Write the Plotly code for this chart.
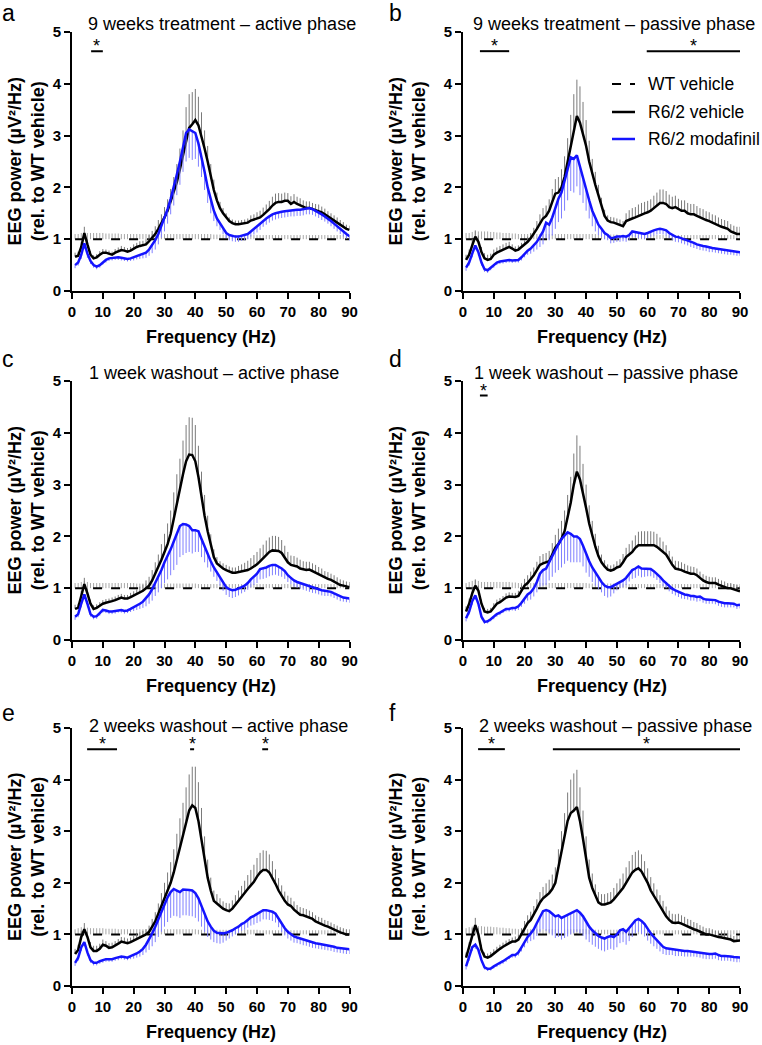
import plotly.graph_objects as go

FREQ = list(range(1, 91))
PANEL_LETTERS = ["a", "b", "c", "d", "e", "f"]
PANEL_TITLES = [
    "9 weeks treatment \u2013 active phase",
    "9 weeks treatment \u2013 passive phase",
    "1 week washout \u2013 active phase",
    "1 week washout \u2013 passive phase",
    "2 weeks washout \u2013 active phase",
    "2 weeks washout \u2013 passive phase",
]
SERIES_NAMES = ["WT vehicle", "R6/2 vehicle", "R6/2 modafinil"]
X_TICKS = [0, 10, 20, 30, 40, 50, 60, 70, 80, 90]
Y_TICKS = [0, 1, 2, 3, 4, 5]

# WT vehicle is the reference (normalised to 1)
WT_MEAN = [1.0] * 90

# ---------------- panel a ----------------
A_VEH = [0.66,0.68,0.85,1.12,0.9,0.7,0.63,0.65,0.7,0.74,
         0.74,0.72,0.7,0.74,0.77,0.79,0.78,0.76,0.78,0.82,
         0.85,0.87,0.88,0.9,0.96,1.02,1.1,1.2,1.3,1.42,
         1.55,1.72,1.9,2.1,2.35,2.6,2.9,3.15,3.22,3.3,
         3.2,3.0,2.75,2.5,2.2,1.95,1.75,1.6,1.5,1.42,
         1.35,1.31,1.29,1.29,1.3,1.3,1.32,1.36,1.38,1.4,
         1.42,1.47,1.52,1.58,1.65,1.7,1.72,1.72,1.74,1.74,
         1.68,1.72,1.68,1.65,1.62,1.6,1.6,1.58,1.56,1.55,
         1.52,1.48,1.44,1.4,1.36,1.32,1.28,1.24,1.2,1.18]
A_VEH_SEM = [0.08,0.08,0.1,0.12,0.1,0.07,0.06,0.06,0.07,0.07,
             0.06,0.06,0.06,0.07,0.07,0.08,0.07,0.07,0.07,0.08,
             0.08,0.09,0.09,0.1,0.12,0.14,0.15,0.17,0.18,0.2,
             0.22,0.25,0.3,0.35,0.4,0.5,0.65,0.65,0.62,0.6,
             0.55,0.45,0.35,0.3,0.25,0.2,0.15,0.12,0.1,0.08,
             0.07,0.07,0.07,0.07,0.07,0.08,0.08,0.1,0.1,0.12,
             0.13,0.14,0.15,0.16,0.17,0.18,0.17,0.16,0.16,0.15,
             0.15,0.15,0.14,0.14,0.13,0.13,0.13,0.12,0.12,0.12,
             0.11,0.11,0.1,0.1,0.1,0.1,0.09,0.09,0.08,0.08]
A_MOD = [0.5,0.55,0.7,0.92,0.72,0.58,0.5,0.47,0.5,0.56,
         0.6,0.63,0.64,0.65,0.65,0.64,0.63,0.62,0.63,0.65,
         0.67,0.69,0.71,0.74,0.8,0.88,0.98,1.1,1.25,1.4,
         1.58,1.78,2.0,2.25,2.5,2.8,3.05,3.12,3.08,3.05,
         2.85,2.6,2.3,2.0,1.75,1.55,1.4,1.3,1.2,1.12,
         1.08,1.06,1.05,1.05,1.07,1.08,1.1,1.15,1.2,1.25,
         1.3,1.36,1.4,1.44,1.48,1.5,1.52,1.53,1.54,1.55,
         1.56,1.56,1.57,1.57,1.58,1.6,1.6,1.58,1.55,1.52,
         1.48,1.44,1.4,1.35,1.3,1.25,1.2,1.14,1.1,1.06]
A_MOD_SEM = [0.06,0.06,0.08,0.1,0.08,0.06,0.05,0.05,0.05,0.05,
             0.05,0.05,0.05,0.05,0.05,0.05,0.05,0.05,0.05,0.06,
             0.06,0.07,0.08,0.1,0.12,0.15,0.18,0.2,0.22,0.25,
             0.28,0.3,0.35,0.4,0.45,0.5,0.55,0.55,0.55,0.5,
             0.45,0.4,0.35,0.3,0.25,0.2,0.15,0.12,0.1,0.1,
             0.1,0.1,0.1,0.1,0.1,0.1,0.1,0.1,0.11,0.12,
             0.12,0.12,0.12,0.12,0.12,0.12,0.12,0.12,0.12,0.12,
             0.12,0.12,0.12,0.12,0.12,0.12,0.12,0.11,0.11,0.11,
             0.11,0.1,0.1,0.1,0.1,0.1,0.1,0.09,0.09,0.09]
A_WT_SEM = [0.1,0.1,0.12,0.12,0.12,0.12,0.12,0.12,0.12,0.12,
            0.11,0.11,0.11,0.11,0.11,0.1,0.1,0.1,0.1,0.1,
            0.1,0.1,0.1,0.1,0.1,0.1,0.1,0.1,0.1,0.1,
            0.1,0.1,0.1,0.1,0.1,0.1,0.1,0.1,0.1,0.1,
            0.1,0.1,0.1,0.1,0.1,0.09,0.09,0.09,0.09,0.09,
            0.08,0.08,0.08,0.08,0.08,0.08,0.08,0.08,0.08,0.08,
            0.08,0.08,0.08,0.08,0.08,0.08,0.08,0.08,0.08,0.08,
            0.08,0.08,0.08,0.08,0.08,0.08,0.08,0.08,0.08,0.08,
            0.08,0.08,0.08,0.08,0.08,0.08,0.08,0.08,0.08,0.08]

# ---------------- panel b ----------------
B_VEH = [0.6,0.7,0.88,1.05,0.95,0.75,0.63,0.6,0.62,0.7,
         0.74,0.77,0.8,0.83,0.85,0.82,0.78,0.8,0.85,0.9,
         0.95,1.02,1.1,1.2,1.3,1.4,1.45,1.55,1.72,1.88,
         1.9,2.0,2.2,2.5,2.85,3.15,3.38,3.25,3.05,2.8,
         2.5,2.25,2.05,1.85,1.65,1.45,1.36,1.33,1.32,1.3,
         1.28,1.25,1.35,1.38,1.4,1.42,1.45,1.48,1.5,1.52,
         1.55,1.6,1.65,1.7,1.7,1.68,1.62,1.6,1.62,1.58,
         1.55,1.55,1.5,1.48,1.48,1.45,1.42,1.4,1.37,1.35,
         1.32,1.3,1.27,1.24,1.22,1.2,1.15,1.12,1.1,1.1]
B_VEH_SEM = [0.1,0.1,0.12,0.12,0.12,0.1,0.1,0.1,0.1,0.1,
             0.1,0.1,0.1,0.1,0.1,0.08,0.08,0.08,0.08,0.08,
             0.1,0.1,0.12,0.15,0.18,0.2,0.2,0.22,0.25,0.28,
             0.3,0.35,0.4,0.45,0.55,0.65,0.7,0.7,0.6,0.5,
             0.4,0.3,0.25,0.2,0.15,0.12,0.1,0.1,0.1,0.1,
             0.1,0.1,0.15,0.18,0.2,0.2,0.22,0.22,0.22,0.22,
             0.22,0.24,0.25,0.26,0.26,0.25,0.24,0.22,0.22,0.2,
             0.2,0.2,0.2,0.2,0.2,0.19,0.18,0.18,0.17,0.17,
             0.16,0.16,0.15,0.15,0.15,0.15,0.14,0.14,0.14,0.14]
B_MOD = [0.45,0.55,0.72,0.88,0.75,0.55,0.42,0.4,0.45,0.5,
         0.55,0.57,0.58,0.59,0.6,0.59,0.6,0.6,0.65,0.72,
         0.78,0.82,0.88,0.95,1.05,1.15,1.32,1.28,1.42,1.6,
         1.78,1.9,2.1,2.35,2.58,2.55,2.62,2.4,2.15,1.95,
         1.75,1.55,1.4,1.28,1.2,1.12,1.08,1.02,1.03,1.05,
         1.05,1.06,1.05,1.08,1.15,1.14,1.12,1.12,1.1,1.12,
         1.15,1.17,1.19,1.2,1.19,1.17,1.12,1.08,1.05,1.04,
         1.02,1.0,0.98,0.95,0.93,0.9,0.88,0.87,0.86,0.84,
         0.83,0.82,0.81,0.8,0.79,0.78,0.77,0.76,0.75,0.75]
B_MOD_SEM = [0.06,0.06,0.07,0.08,0.07,0.06,0.05,0.05,0.05,0.05,
             0.05,0.05,0.05,0.05,0.05,0.05,0.05,0.05,0.06,0.07,
             0.08,0.1,0.12,0.15,0.2,0.25,0.3,0.3,0.35,0.4,
             0.45,0.5,0.55,0.6,0.65,0.65,0.6,0.55,0.45,0.4,
             0.35,0.3,0.25,0.2,0.15,0.12,0.1,0.1,0.1,0.1,
             0.1,0.1,0.1,0.1,0.1,0.1,0.1,0.1,0.1,0.1,
             0.1,0.1,0.1,0.1,0.1,0.1,0.1,0.1,0.1,0.1,
             0.1,0.1,0.1,0.1,0.1,0.09,0.09,0.09,0.09,0.09,
             0.08,0.08,0.08,0.08,0.08,0.08,0.07,0.07,0.07,0.07]
B_WT_SEM = [0.12,0.12,0.14,0.15,0.15,0.15,0.15,0.15,0.14,0.14,
            0.13,0.13,0.12,0.12,0.12,0.11,0.11,0.1,0.1,0.1,
            0.1,0.1,0.1,0.1,0.1,0.1,0.1,0.1,0.1,0.1,
            0.1,0.1,0.1,0.1,0.1,0.1,0.1,0.1,0.1,0.1,
            0.1,0.1,0.1,0.09,0.09,0.09,0.09,0.09,0.09,0.09,
            0.08,0.08,0.08,0.08,0.08,0.08,0.08,0.08,0.08,0.08,
            0.08,0.08,0.08,0.08,0.08,0.08,0.08,0.08,0.08,0.08,
            0.08,0.08,0.08,0.08,0.08,0.08,0.08,0.08,0.08,0.08,
            0.08,0.08,0.08,0.08,0.08,0.08,0.08,0.08,0.08,0.08]

# ---------------- panel c ----------------
C_VEH = [0.6,0.62,0.85,1.08,0.9,0.7,0.6,0.62,0.66,0.7,
         0.72,0.73,0.75,0.77,0.8,0.82,0.8,0.8,0.83,0.86,
         0.9,0.93,0.95,1.0,1.05,1.15,1.28,1.4,1.55,1.7,
         1.85,2.05,2.35,2.65,2.9,3.2,3.45,3.58,3.57,3.45,
         3.15,2.75,2.4,2.1,1.82,1.6,1.48,1.42,1.38,1.35,
         1.32,1.3,1.3,1.31,1.32,1.33,1.35,1.38,1.42,1.46,
         1.52,1.58,1.65,1.7,1.73,1.73,1.72,1.68,1.6,1.5,
         1.45,1.44,1.42,1.38,1.36,1.35,1.36,1.33,1.3,1.27,
         1.24,1.2,1.18,1.16,1.13,1.1,1.06,1.05,1.03,1.02]
C_VEH_SEM = [0.08,0.08,0.1,0.12,0.1,0.08,0.07,0.07,0.07,0.07,
             0.07,0.07,0.07,0.07,0.07,0.07,0.07,0.07,0.08,0.08,
             0.08,0.1,0.12,0.15,0.17,0.2,0.22,0.25,0.3,0.35,
             0.4,0.45,0.5,0.55,0.6,0.65,0.7,0.72,0.72,0.7,
             0.6,0.5,0.4,0.3,0.22,0.15,0.12,0.1,0.1,0.1,
             0.1,0.1,0.1,0.12,0.14,0.16,0.18,0.2,0.22,0.24,
             0.25,0.26,0.27,0.28,0.28,0.28,0.27,0.25,0.22,0.2,
             0.18,0.18,0.17,0.17,0.16,0.16,0.15,0.15,0.15,0.14,
             0.14,0.13,0.13,0.12,0.12,0.11,0.11,0.1,0.1,0.1]
C_MOD = [0.45,0.5,0.7,0.88,0.7,0.5,0.45,0.46,0.52,0.58,
         0.57,0.55,0.55,0.56,0.58,0.58,0.56,0.57,0.6,0.63,
         0.66,0.7,0.74,0.8,0.88,0.98,1.1,1.22,1.35,1.5,
         1.62,1.75,1.9,2.05,2.2,2.24,2.23,2.2,2.12,2.12,
         2.1,1.95,1.8,1.65,1.52,1.4,1.3,1.2,1.1,1.02,
         0.98,0.96,0.97,0.99,1.02,1.05,1.1,1.17,1.22,1.28,
         1.37,1.38,1.4,1.43,1.45,1.45,1.42,1.38,1.33,1.25,
         1.2,1.15,1.12,1.1,1.07,1.05,1.03,1.01,1.0,0.98,
         0.96,0.95,0.94,0.93,0.9,0.87,0.84,0.82,0.81,0.8]
C_MOD_SEM = [0.06,0.06,0.07,0.08,0.07,0.05,0.05,0.05,0.05,0.05,
             0.05,0.05,0.05,0.05,0.05,0.05,0.05,0.05,0.06,0.07,
             0.08,0.1,0.12,0.15,0.18,0.22,0.25,0.3,0.35,0.4,
             0.45,0.5,0.55,0.6,0.6,0.6,0.55,0.5,0.45,0.42,
             0.4,0.35,0.3,0.25,0.2,0.18,0.16,0.15,0.15,0.15,
             0.15,0.15,0.14,0.13,0.12,0.12,0.13,0.15,0.16,0.18,
             0.2,0.2,0.2,0.2,0.2,0.19,0.18,0.16,0.15,0.13,
             0.12,0.12,0.11,0.11,0.1,0.1,0.1,0.1,0.1,0.1,
             0.1,0.1,0.09,0.09,0.09,0.09,0.09,0.08,0.08,0.08]
C_WT_SEM = [0.1,0.1,0.12,0.14,0.12,0.1,0.1,0.1,0.1,0.1,
            0.1,0.1,0.1,0.1,0.1,0.1,0.1,0.1,0.1,0.1,
            0.09,0.09,0.09,0.09,0.09,0.09,0.09,0.09,0.09,0.09,
            0.09,0.09,0.09,0.09,0.09,0.09,0.09,0.09,0.09,0.09,
            0.08,0.08,0.08,0.08,0.08,0.08,0.08,0.08,0.08,0.08,
            0.08,0.08,0.08,0.08,0.08,0.08,0.08,0.08,0.08,0.08,
            0.08,0.08,0.08,0.08,0.08,0.08,0.08,0.08,0.08,0.08,
            0.08,0.08,0.08,0.08,0.08,0.08,0.08,0.08,0.08,0.08,
            0.08,0.08,0.08,0.08,0.08,0.08,0.08,0.08,0.08,0.08]

# ---------------- panel d ----------------
D_VEH = [0.55,0.7,0.9,1.05,0.95,0.7,0.55,0.53,0.55,0.63,
         0.7,0.73,0.77,0.82,0.84,0.83,0.83,0.85,0.95,1.05,
         1.1,1.17,1.25,1.35,1.45,1.48,1.5,1.52,1.65,1.78,
         1.85,1.95,2.1,2.35,2.65,3.0,3.25,3.1,2.85,2.55,
         2.25,2.0,1.8,1.62,1.5,1.42,1.36,1.34,1.36,1.4,
         1.42,1.5,1.6,1.65,1.7,1.78,1.83,1.83,1.83,1.83,
         1.83,1.83,1.8,1.75,1.7,1.65,1.55,1.45,1.38,1.37,
         1.35,1.32,1.3,1.28,1.28,1.25,1.2,1.15,1.12,1.1,
         1.1,1.1,1.07,1.05,1.03,1.0,1.0,0.98,0.96,0.94]
D_VEH_SEM = [0.1,0.1,0.12,0.12,0.1,0.08,0.07,0.07,0.07,0.08,
             0.08,0.08,0.08,0.08,0.08,0.08,0.08,0.1,0.12,0.13,
             0.15,0.15,0.15,0.16,0.17,0.18,0.18,0.2,0.22,0.25,
             0.3,0.35,0.4,0.45,0.5,0.6,0.7,0.65,0.55,0.45,
             0.35,0.3,0.25,0.2,0.15,0.12,0.1,0.1,0.1,0.12,
             0.14,0.16,0.18,0.2,0.22,0.24,0.26,0.27,0.27,0.27,
             0.27,0.26,0.25,0.23,0.2,0.18,0.17,0.16,0.15,0.15,
             0.15,0.15,0.14,0.14,0.13,0.13,0.12,0.12,0.12,0.12,
             0.11,0.11,0.11,0.1,0.1,0.1,0.1,0.1,0.1,0.1]
D_MOD = [0.42,0.55,0.75,0.86,0.7,0.45,0.35,0.36,0.4,0.45,
         0.5,0.53,0.57,0.6,0.6,0.62,0.62,0.65,0.72,0.8,
         0.88,0.92,1.0,1.12,1.28,1.35,1.38,1.5,1.62,1.75,
         1.85,1.95,2.02,2.08,2.05,2.0,2.0,1.95,1.82,1.65,
         1.52,1.4,1.3,1.2,1.12,1.05,1.02,1.02,1.05,1.08,
         1.12,1.15,1.2,1.28,1.35,1.38,1.42,1.38,1.38,1.38,
         1.37,1.33,1.28,1.22,1.15,1.1,1.04,0.99,0.96,0.93,
         0.9,0.88,0.87,0.85,0.85,0.83,0.84,0.8,0.78,0.78,
         0.78,0.77,0.74,0.72,0.71,0.71,0.71,0.7,0.67,0.68]
D_MOD_SEM = [0.06,0.06,0.07,0.08,0.06,0.05,0.04,0.04,0.04,0.05,
             0.05,0.05,0.05,0.05,0.05,0.05,0.06,0.07,0.08,0.1,
             0.12,0.14,0.16,0.2,0.25,0.3,0.32,0.35,0.4,0.45,
             0.5,0.55,0.55,0.55,0.55,0.5,0.5,0.45,0.4,0.35,
             0.3,0.28,0.25,0.22,0.2,0.2,0.2,0.18,0.15,0.12,
             0.12,0.13,0.14,0.15,0.17,0.18,0.18,0.17,0.16,0.15,
             0.14,0.13,0.12,0.12,0.11,0.1,0.1,0.1,0.1,0.1,
             0.1,0.09,0.09,0.09,0.09,0.09,0.09,0.08,0.08,0.08,
             0.08,0.08,0.08,0.08,0.08,0.08,0.08,0.07,0.07,0.07]
D_WT_SEM = [0.1,0.12,0.14,0.15,0.14,0.12,0.12,0.12,0.12,0.12,
            0.12,0.12,0.12,0.12,0.12,0.11,0.11,0.1,0.1,0.1,
            0.1,0.1,0.1,0.1,0.1,0.1,0.1,0.1,0.1,0.1,
            0.1,0.1,0.1,0.1,0.1,0.1,0.1,0.1,0.1,0.1,
            0.09,0.09,0.09,0.09,0.09,0.09,0.09,0.09,0.09,0.09,
            0.08,0.08,0.08,0.08,0.08,0.08,0.08,0.08,0.08,0.08,
            0.08,0.08,0.08,0.08,0.08,0.08,0.08,0.08,0.08,0.08,
            0.08,0.08,0.08,0.08,0.08,0.08,0.08,0.08,0.08,0.08,
            0.08,0.08,0.08,0.08,0.08,0.08,0.08,0.08,0.08,0.08]

# ---------------- panel e ----------------
E_VEH = [0.62,0.7,0.95,1.1,0.95,0.75,0.68,0.68,0.72,0.8,
         0.78,0.74,0.75,0.78,0.82,0.86,0.85,0.83,0.85,0.88,
         0.92,0.95,0.97,1.0,1.05,1.15,1.25,1.4,1.55,1.7,
         1.85,2.0,2.2,2.45,2.7,2.95,3.2,3.4,3.5,3.45,
         3.2,2.85,2.45,2.1,1.85,1.65,1.6,1.55,1.5,1.47,
         1.45,1.5,1.58,1.65,1.72,1.8,1.88,1.95,2.02,2.12,
         2.2,2.25,2.25,2.2,2.1,1.98,1.85,1.75,1.65,1.58,
         1.55,1.48,1.42,1.38,1.37,1.35,1.33,1.3,1.25,1.22,
         1.2,1.17,1.15,1.12,1.1,1.07,1.04,1.02,1.0,1.0]
E_VEH_SEM = [0.1,0.1,0.12,0.12,0.1,0.1,0.1,0.1,0.1,0.1,
             0.09,0.09,0.09,0.09,0.09,0.09,0.09,0.09,0.09,0.09,
             0.09,0.09,0.1,0.1,0.12,0.15,0.18,0.2,0.25,0.3,
             0.35,0.4,0.45,0.5,0.55,0.6,0.65,0.7,0.75,0.8,
             0.75,0.6,0.45,0.35,0.25,0.2,0.18,0.15,0.14,0.14,
             0.15,0.16,0.18,0.2,0.22,0.24,0.27,0.3,0.33,0.36,
             0.38,0.38,0.37,0.35,0.32,0.28,0.24,0.2,0.18,0.17,
             0.16,0.16,0.15,0.15,0.14,0.14,0.13,0.13,0.12,0.12,
             0.12,0.11,0.11,0.11,0.1,0.1,0.1,0.1,0.1,0.1]
E_MOD = [0.45,0.55,0.75,0.85,0.65,0.5,0.45,0.45,0.48,0.5,
         0.52,0.52,0.52,0.54,0.55,0.57,0.56,0.55,0.58,0.6,
         0.63,0.67,0.72,0.8,0.9,1.02,1.15,1.3,1.45,1.6,
         1.72,1.82,1.88,1.85,1.82,1.87,1.87,1.86,1.85,1.8,
         1.7,1.55,1.4,1.25,1.15,1.07,1.03,1.02,1.02,1.03,
         1.05,1.08,1.12,1.15,1.2,1.23,1.28,1.33,1.36,1.4,
         1.43,1.47,1.47,1.46,1.44,1.4,1.3,1.2,1.12,1.05,
         1.0,0.96,0.94,0.92,0.9,0.88,0.86,0.84,0.83,0.82,
         0.81,0.8,0.79,0.78,0.76,0.74,0.73,0.72,0.71,0.71]
E_MOD_SEM = [0.06,0.06,0.07,0.08,0.06,0.05,0.05,0.05,0.05,0.05,
             0.05,0.05,0.05,0.05,0.05,0.05,0.05,0.05,0.06,0.07,
             0.08,0.1,0.12,0.15,0.2,0.25,0.3,0.35,0.4,0.45,
             0.48,0.5,0.52,0.5,0.5,0.5,0.5,0.5,0.5,0.48,
             0.45,0.4,0.35,0.3,0.25,0.22,0.2,0.2,0.18,0.15,
             0.13,0.12,0.12,0.12,0.13,0.14,0.15,0.16,0.17,0.18,
             0.18,0.18,0.18,0.18,0.18,0.17,0.16,0.15,0.14,0.13,
             0.12,0.12,0.11,0.11,0.11,0.1,0.1,0.1,0.1,0.1,
             0.1,0.1,0.1,0.1,0.1,0.09,0.09,0.09,0.09,0.09]
E_WT_SEM = [0.1,0.12,0.14,0.14,0.13,0.12,0.12,0.12,0.12,0.12,
            0.11,0.11,0.11,0.11,0.1,0.1,0.1,0.1,0.1,0.1,
            0.1,0.1,0.1,0.1,0.1,0.1,0.1,0.1,0.1,0.1,
            0.1,0.1,0.1,0.1,0.1,0.1,0.1,0.1,0.1,0.1,
            0.09,0.09,0.09,0.09,0.09,0.09,0.09,0.09,0.09,0.09,
            0.09,0.09,0.09,0.09,0.09,0.09,0.09,0.09,0.09,0.09,
            0.08,0.08,0.08,0.08,0.08,0.08,0.08,0.08,0.08,0.08,
            0.08,0.08,0.08,0.08,0.08,0.08,0.08,0.08,0.08,0.08,
            0.08,0.08,0.08,0.08,0.08,0.09,0.09,0.09,0.09,0.09]

# ---------------- panel f ----------------
F_VEH = [0.55,0.75,1.0,1.18,1.0,0.7,0.57,0.55,0.58,0.63,
         0.68,0.72,0.76,0.8,0.83,0.86,0.86,0.9,1.0,1.12,
         1.22,1.28,1.38,1.5,1.62,1.7,1.75,1.8,1.88,2.0,
         2.3,2.6,2.9,3.2,3.35,3.4,3.47,3.2,2.85,2.45,
         2.1,1.9,1.75,1.62,1.58,1.58,1.6,1.62,1.68,1.75,
         1.82,1.9,2.0,2.1,2.2,2.25,2.28,2.22,2.12,2.0,
         1.85,1.75,1.65,1.55,1.45,1.35,1.28,1.23,1.22,1.23,
         1.21,1.18,1.15,1.13,1.1,1.08,1.05,1.02,1.0,1.0,
         0.98,0.96,0.95,0.94,0.93,0.92,0.9,0.87,0.87,0.88]
F_VEH_SEM = [0.1,0.1,0.12,0.14,0.12,0.1,0.08,0.08,0.08,0.08,
             0.08,0.08,0.08,0.08,0.08,0.08,0.1,0.1,0.12,0.14,
             0.15,0.16,0.17,0.18,0.2,0.22,0.24,0.26,0.28,0.3,
             0.35,0.4,0.45,0.55,0.65,0.72,0.72,0.65,0.55,0.45,
             0.35,0.28,0.22,0.2,0.2,0.2,0.2,0.2,0.22,0.24,
             0.26,0.28,0.3,0.32,0.34,0.35,0.35,0.33,0.3,0.28,
             0.26,0.24,0.22,0.21,0.2,0.19,0.18,0.17,0.17,0.17,
             0.16,0.16,0.15,0.15,0.14,0.14,0.13,0.13,0.12,0.12,
             0.12,0.11,0.11,0.11,0.1,0.1,0.1,0.1,0.1,0.1]
F_MOD = [0.38,0.55,0.75,0.8,0.7,0.5,0.36,0.33,0.34,0.38,
         0.42,0.45,0.48,0.52,0.57,0.6,0.6,0.65,0.75,0.85,
         0.95,1.02,1.1,1.22,1.35,1.45,1.47,1.45,1.4,1.35,
         1.37,1.32,1.35,1.38,1.42,1.45,1.47,1.42,1.35,1.25,
         1.15,1.08,1.02,0.97,0.94,0.92,0.95,0.97,0.95,1.0,
         1.08,1.1,1.05,1.12,1.2,1.27,1.3,1.26,1.2,1.1,
         1.02,0.95,0.88,0.82,0.76,0.73,0.72,0.72,0.7,0.7,
         0.69,0.68,0.68,0.67,0.67,0.66,0.65,0.63,0.62,0.62,
         0.62,0.63,0.6,0.58,0.58,0.58,0.57,0.56,0.55,0.55]
F_MOD_SEM = [0.06,0.06,0.07,0.08,0.07,0.05,0.04,0.04,0.04,0.04,
             0.05,0.05,0.05,0.05,0.05,0.05,0.05,0.06,0.08,0.1,
             0.12,0.15,0.2,0.25,0.3,0.35,0.4,0.42,0.42,0.42,
             0.42,0.42,0.42,0.42,0.42,0.42,0.42,0.4,0.38,0.35,
             0.3,0.28,0.26,0.25,0.25,0.25,0.25,0.25,0.25,0.25,
             0.25,0.25,0.25,0.25,0.25,0.25,0.25,0.25,0.24,0.22,
             0.2,0.18,0.16,0.15,0.14,0.13,0.12,0.12,0.12,0.12,
             0.11,0.11,0.11,0.1,0.1,0.1,0.1,0.1,0.1,0.1,
             0.1,0.1,0.1,0.09,0.09,0.09,0.09,0.09,0.09,0.09]
F_WT_SEM = [0.12,0.14,0.15,0.16,0.16,0.16,0.15,0.15,0.15,0.14,
            0.14,0.13,0.13,0.12,0.12,0.11,0.11,0.1,0.1,0.1,
            0.1,0.1,0.1,0.1,0.1,0.1,0.1,0.1,0.1,0.1,
            0.1,0.1,0.1,0.1,0.1,0.1,0.1,0.1,0.1,0.1,
            0.09,0.09,0.09,0.09,0.09,0.09,0.09,0.09,0.09,0.09,
            0.09,0.09,0.09,0.09,0.09,0.09,0.09,0.09,0.09,0.09,
            0.08,0.08,0.08,0.08,0.08,0.08,0.08,0.08,0.08,0.08,
            0.08,0.08,0.08,0.08,0.08,0.08,0.08,0.08,0.08,0.08,
            0.08,0.08,0.08,0.08,0.08,0.08,0.08,0.08,0.08,0.08]

# significance bars (start Hz, end Hz) per panel and their height
SIG_BARS = [
    [(6.2, 10.0)],
    [(5.5, 15.0), (59.7, 90.0)],
    [],
    [(5.5, 8.0)],
    [(4.9, 14.6), (38.3, 39.6), (61.7, 63.6)],
    [(4.9, 13.6), (29.2, 90.0)],
]
SIG_LEVEL = [4.63, 4.63, 4.63, 4.72, 4.59, 4.59]

PANELS = [
    (A_VEH, A_VEH_SEM, A_MOD, A_MOD_SEM, A_WT_SEM),
    (B_VEH, B_VEH_SEM, B_MOD, B_MOD_SEM, B_WT_SEM),
    (C_VEH, C_VEH_SEM, C_MOD, C_MOD_SEM, C_WT_SEM),
    (D_VEH, D_VEH_SEM, D_MOD, D_MOD_SEM, D_WT_SEM),
    (E_VEH, E_VEH_SEM, E_MOD, E_MOD_SEM, E_WT_SEM),
    (F_VEH, F_VEH_SEM, F_MOD, F_MOD_SEM, F_WT_SEM),
]

# ---------------- layout geometry (pixels) ----------------
W, H = 762, 1045
COL_X = [(72, 349.5), (463, 740)]
ROW_Y = [(32, 291), (381, 640), (728, 986)]
TITLE_Y = [24, 373, 726]
TITLE_X = [[222, 614], [214, 606], [218, 615]]
LETTER_BASE = [20, 366, 720]
FONT = "Liberation Sans, Arial, sans-serif"
BLACK = "#000000"
BLUE = "#1414ff"
ZEROS = [0] * 90

fig = go.Figure()
layout = dict(
    width=W, height=H, margin=dict(l=0, r=0, t=0, b=0, pad=0, autoexpand=False),
    autosize=False,
    paper_bgcolor="white", plot_bgcolor="white", showlegend=False,
    font=dict(family=FONT, color="black"),
)
annotations = []
shapes = []

for i, (veh, veh_sem, mod, mod_sem, wt_sem) in enumerate(PANELS):
    r, c = divmod(i, 2)
    sfx = "" if i == 0 else str(i + 1)
    xa, ya = "x" + sfx, "y" + sfx
    x0, x1 = COL_X[c]
    y0, y1 = ROW_Y[r]

    fig.add_trace(go.Scatter(
        x=FREQ, y=WT_MEAN, mode="lines", name=SERIES_NAMES[0],
        line=dict(color=BLACK, width=2, dash="dash"),
        error_y=dict(type="data", symmetric=False, array=wt_sem, arrayminus=ZEROS,
                     color="#a8a8a8", thickness=1, width=0),
        xaxis=xa, yaxis=ya))
    fig.add_trace(go.Scatter(
        x=FREQ, y=veh, mode="lines", name=SERIES_NAMES[1],
        line=dict(color=BLACK, width=2.5),
        error_y=dict(type="data", symmetric=False, array=veh_sem, arrayminus=ZEROS,
                     color="#7a7a7a", thickness=1, width=0),
        xaxis=xa, yaxis=ya))
    fig.add_trace(go.Scatter(
        x=FREQ, y=mod, mode="lines", name=SERIES_NAMES[2],
        line=dict(color=BLUE, width=2.5),
        error_y=dict(type="data", symmetric=False, array=ZEROS, arrayminus=mod_sem,
                     color="#8080ff", thickness=1, width=0),
        xaxis=xa, yaxis=ya))

    axcommon = dict(showline=True, linewidth=2, linecolor="black", ticks="outside",
                    ticklen=6, tickwidth=2, tickcolor="black", showgrid=False,
                    zeroline=False, automargin=False, fixedrange=True,
                    tickfont=dict(family=FONT, size=15, weight="bold", color="black"))
    layout["xaxis" + sfx] = dict(domain=[x0 / W, x1 / W], range=[0, 90], tickvals=X_TICKS,
                                 anchor=ya, **axcommon)
    layout["yaxis" + sfx] = dict(domain=[1 - y1 / H, 1 - y0 / H], range=[0, 5], tickvals=Y_TICKS,
                                 anchor=xa, **axcommon)

    # panel letter
    annotations.append(dict(text=PANEL_LETTERS[i], xref="paper", yref="paper",
                            x=(0 + c * 387) / W, y=1 - (LETTER_BASE[r] - 7) / H,
                            xanchor="left", yanchor="middle",
                            showarrow=False, font=dict(family=FONT, size=23, color="black")))
    # panel title
    annotations.append(dict(text=PANEL_TITLES[i], xref="paper", yref="paper",
                            x=TITLE_X[r][c] / W, y=1 - TITLE_Y[r] / H, xanchor="center", yanchor="middle",
                            showarrow=False, font=dict(family=FONT, size=18, color="black")))
    # x title
    annotations.append(dict(text="Frequency (Hz)", xref="paper", yref="paper",
                            x=(x0 + x1) / 2 / W, y=1 - (y1 + 46) / H, xanchor="center", yanchor="middle",
                            showarrow=False, font=dict(family=FONT, size=18, weight="bold", color="black")))
    # y title
    annotations.append(dict(text="EEG power (\u00b5V\u00b2/Hz)<br>(rel. to WT vehicle)",
                            xref="paper", yref="paper",
                            x=(26 + c * 381) / W, y=1 - (y0 + y1) / 2 / H, xanchor="center", yanchor="middle",
                            textangle=-90, showarrow=False,
                            font=dict(family=FONT, size=18, weight="bold", color="black")))
    # significance bars
    for (s, e) in SIG_BARS[i]:
        lvl = SIG_LEVEL[i]
        shapes.append(dict(type="line", xref=xa, yref=ya, x0=s, x1=e, y0=lvl, y1=lvl,
                           line=dict(color="black", width=2)))
        annotations.append(dict(text="*", xref=xa, yref=ya, x=(s + e) / 2, y=lvl,
                                xanchor="center", yanchor="bottom", yshift=-7, showarrow=False,
                                font=dict(family=FONT, size=18, color="black")))

# manual legend in panel b
LEG_Y = [84, 112, 139]
LEG_STYLE = [dict(color=BLACK, width=2, dash="dash"), dict(color=BLACK, width=2.5),
             dict(color=BLUE, width=2.5)]
for k, name in enumerate(SERIES_NAMES):
    yy = 1 - LEG_Y[k] / H
    shapes.append(dict(type="line", xref="paper", yref="paper", x0=612 / W, x1=635 / W,
                       y0=yy, y1=yy, line=LEG_STYLE[k]))
    annotations.append(dict(text=name, xref="paper", yref="paper", x=646 / W, y=yy,
                            xanchor="left", yanchor="middle", showarrow=False,
                            font=dict(family=FONT, size=17.5, color="black")))

layout["annotations"] = annotations
layout["shapes"] = shapes
fig.update_layout(**layout)
fig.write_html("out.html", config={"displayModeBar": False, "staticPlot": True},
               post_script="document.body.style.margin='0px';document.body.style.overflow='hidden';")
